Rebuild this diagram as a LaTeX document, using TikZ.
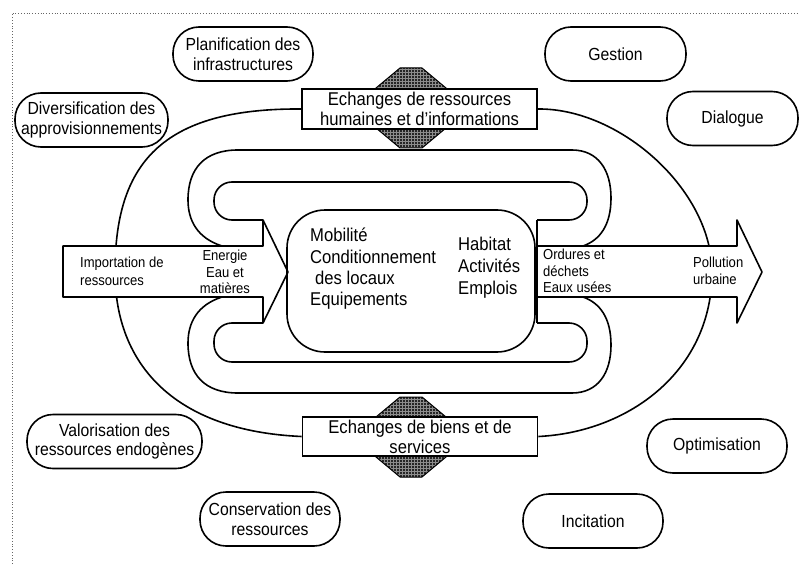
\documentclass[tikz,border=0pt]{standalone}
\usepackage{fontspec}
\setmainfont{Liberation Sans}[FakeStretch=0.9]
\usetikzlibrary{patterns}

\begin{document}
\begin{tikzpicture}[x=1pt, y=-1pt,
        trait/.style={line width=1.6pt, line join=round},
        fleche/.style={trait, fill=white},
        bulle/.style={draw, line width=1.6pt, rounded corners=26pt, minimum width=140pt, minimum height=54pt, inner sep=0pt, align=center, font=\fontsize{17.5}{19.5}\selectfont},
        cadre/.style={draw, line width=1.6pt, fill=white, minimum width=235pt, minimum height=40pt, inner sep=0pt, align=center, font=\fontsize{18.5}{20}\selectfont},
        hexa/.style={draw, line width=1pt, preaction={fill=black!85}, pattern=grid, pattern color=black!45},
        noyau/.style={draw, line width=1.6pt, rounded corners=38pt, minimum width=248pt, minimum height=142pt},
        texte/.style={inner sep=0pt, align=left, font=\fontsize{18.5}{21.3}\selectfont},
        petit/.style={inner sep=0pt, align=left, font=\fontsize{14.5}{16.5}\selectfont}
      ]
        \useasboundingbox (0,0) rectangle (799,564);
        \draw[dotted, line width=0.8pt, black!60] (12,564) -- (12,13) -- (799,13);

        \draw[hexa] (352,108) -- (400,68) -- (422,68) -- (470,108) -- (422,148) -- (400,148) -- cycle;
        \draw[hexa] (352,437) -- (400,397) -- (422,397) -- (470,437) -- (422,477) -- (400,477) -- cycle;
        \node[cadre] (echhaut) at (419.5,109) {Echanges de ressources\\humaines et d'informations};
        \node[cadre, minimum height=39pt] (echbas) at (420,436.5) {Echanges de biens et de\\services};

        \draw[trait] (echhaut.west) .. controls (160,108) and (115,165) .. (115,272)
          .. controls (115,365) and (175,431) .. (echbas.west);
        \draw[trait] (echhaut.east) .. controls (620,108) and (712,190) .. (712,272)
          .. controls (712,370) and (630,432) .. (echbas.east);

        \coordinate (gh) at (263,220);
        \coordinate (gb) at (263,323);
        \coordinate (dh) at (537,220);
        \coordinate (db) at (537,323);
        \draw[fleche] (63,246) -- (263,246) -- (gh) -- (288,272) -- (gb) -- (263,297) -- (63,297) -- cycle;
        \draw[fleche] (537,246) -- (737,246) -- (737,220) -- (762,272) -- (737,323) -- (737,297) -- (537,297) -- cycle;
        \draw[trait] (dh) -- (db);

        \draw[trait, rounded corners=18pt] (gh) -- (214,220) -- (214,182) -- (587,182) -- (587,220) -- (dh);
        \draw[trait, rounded corners=18pt] (gb) -- (214,323) -- (214,362) -- (587,362) -- (587,323) -- (db);
        \draw[trait] (222,246) .. controls (197,238) and (188,220) .. (188,200)
          .. controls (188,168) and (205,150) .. (238,150) -- (572,150)
          .. controls (598,150) and (611,170) .. (611,198)
          .. controls (611,225) and (600,240) .. (583,246);
        \draw[trait] (222,297) .. controls (197,305) and (188,323) .. (188,343)
          .. controls (188,375) and (205,393) .. (238,393) -- (572,393)
          .. controls (598,393) and (611,373) .. (611,345)
          .. controls (611,318) and (600,303) .. (583,297);

        \node[noyau] (centre) at (411,281) {};
        \node[texte, anchor=west] (mobil) at (310,269) {Mobilité\\Conditionnement\\\hspace*{5pt}des locaux\\Equipements};
        \node[texte, anchor=west, font=\fontsize{18.5}{22}\selectfont] (habitat) at (458,268) {Habitat\\Activités\\Emplois};

        \node[petit, anchor=west, font=\fontsize{14.5}{18}\selectfont] (import) at (80,271) {Importation de\\ressources};
        \node[petit, align=center] (energie) at (225,272) {Energie\\Eau et\\matières};
        \node[petit, anchor=west] (ordures) at (543,271) {Ordures et\\déchets\\Eaux usées};
        \node[petit, anchor=west, font=\fontsize{14.5}{17}\selectfont] (pollu) at (693,270.5) {Pollution\\urbaine};

        \node[bulle] (plan) at (243,54) {Planification des\\infrastructures};
        \node[bulle, minimum width=153pt] (divers) at (91.5,120) {Diversification des\\approvisionnements};
        \node[bulle, minimum width=141pt] (gestion) at (615.5,54) {Gestion};
        \node[bulle, minimum width=131pt] (dialogue) at (732.5,118.5) {Dialogue};
        \node[bulle, minimum width=175pt] (valor) at (114.5,441.5) {Valorisation des\\ressources endogènes};
        \node[bulle] (conserv) at (270,519) {Conservation des\\ressources};
        \node[bulle] (optim) at (717,446) {Optimisation};
        \node[bulle] (incit) at (593,521) {Incitation};
      \end{tikzpicture}
\end{document}
